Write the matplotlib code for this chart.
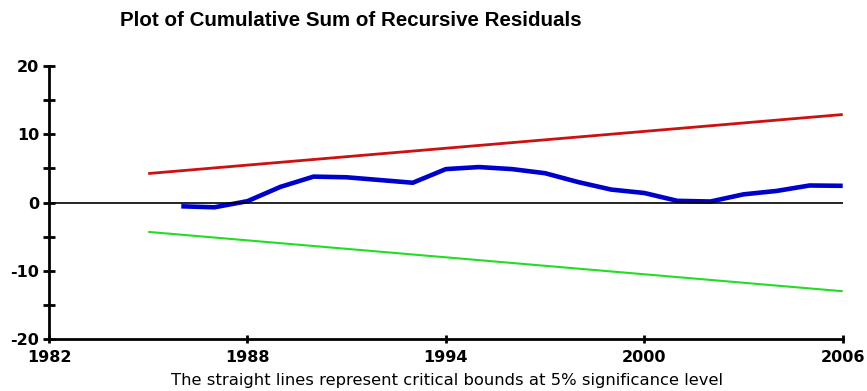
#!/usr/bin/env python3
import matplotlib
matplotlib.use("Agg")
import matplotlib.pyplot as plt

years = list(range(1986, 2007))
cusum = [-0.55, -0.7, 0.2, 2.3, 3.8, 3.7, 3.3, 2.9, 4.9, 5.2, 4.9, 4.3,
         3.0, 1.9, 1.4, 0.25, 0.15, 1.2, 1.7, 2.5, 2.45]

bound_years = [1985, 2006]
upper_bound = [4.25, 12.9]
lower_bound = [-4.3, -13.0]

x_ticks = [1982, 1988, 1994, 2000, 2006]
y_ticks = [-20, -10, 0, 10, 20]
y_minor = [-15, -5, 5, 15]

plt.rcParams["font.family"] = ["Liberation Sans", "DejaVu Sans"]
plt.rcParams["axes.unicode_minus"] = False

fig = plt.figure(figsize=(8.67, 3.91), dpi=100)
ax = fig.add_axes([0.0565, 0.133, 0.9155, 0.698])

ax.plot(bound_years, upper_bound, color="#cc1111", lw=2.0, solid_capstyle="butt")
ax.plot(bound_years, lower_bound, color="#22dd22", lw=1.5, solid_capstyle="butt")
ax.plot(years, cusum, color="#0000cc", lw=3.3, solid_capstyle="butt")
ax.axhline(0, color="black", lw=1.2)

ax.set_xlim(1982, 2006)
ax.set_ylim(-20, 20)

for side in ("top", "right"):
    ax.spines[side].set_visible(False)
for side in ("left", "bottom"):
    ax.spines[side].set_linewidth(2.0)

ax.set_xticks(x_ticks)
ax.set_yticks(y_ticks)
ax.set_yticks(y_minor, minor=True)
ax.tick_params(axis="y", which="both", direction="inout", length=8, width=2, pad=3)
ax.tick_params(axis="x", which="major", direction="inout", length=6, width=2, pad=5)
for lbl in ax.get_xticklabels() + ax.get_yticklabels():
    lbl.set_family("DejaVu Sans")
    lbl.set_fontweight("bold")
    lbl.set_fontsize(11.5)

fig.suptitle("Plot of Cumulative Sum of Recursive Residuals", x=0.405, y=0.972,
             fontsize=14.8, fontweight="bold")
fig.text(0.516, 0.026, "The straight lines represent critical bounds at 5% significance level",
         ha="center", va="center", fontsize=11.8, family="DejaVu Sans")

fig.savefig("out.png", dpi=100)
